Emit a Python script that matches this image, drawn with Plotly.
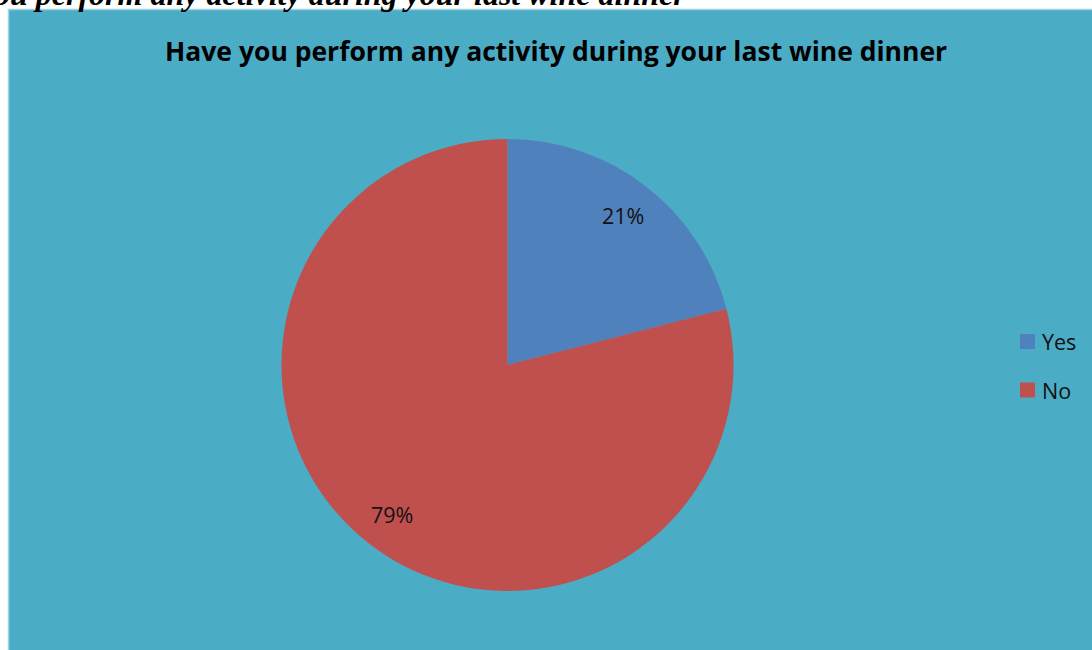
import math
import plotly.graph_objects as go

# Survey answers
labels = ["Yes", "No"]
values = [21, 79]
colors = ["#4F81BD", "#C0504D"]

chart_title = "Have you perform any activity during your last wine dinner"
caption = "ou perform any activity during your last wine dinner"

W, H = 1092, 650
teal = "#4BACC6"

# Pie geometry in pixels
cx_px, cy_px, r_px = 507.5, 365.0, 226.0

fig = go.Figure()
fig.add_trace(go.Pie(
    labels=labels,
    values=values,
    marker=dict(colors=colors, line=dict(width=0)),
    sort=False,
    direction="clockwise",
    rotation=0,
    textinfo="none",
    hoverinfo="label+percent",
    showlegend=False,
    domain=dict(x=[(cx_px - r_px) / W, (cx_px + r_px) / W],
                y=[(H - cy_px - r_px) / H, (H - cy_px + r_px) / H]),
))

annotations = []
text_font = dict(family="Open Sans", size=21.5, color="#111111")

# Percentage labels placed at the middle angle of each slice
total = sum(values)
start = 0.0
label_r = 0.835
for v in values:
    frac = v / total
    mid = (start + frac / 2) * 2 * math.pi
    start += frac
    px = cx_px + label_r * r_px * math.sin(mid)
    py = cy_px - label_r * r_px * math.cos(mid)
    annotations.append(dict(
        x=px / W, y=1 - py / H, xref="paper", yref="paper",
        text=f"{round(100 * frac)}%", showarrow=False,
        xanchor="center", yanchor="middle", font=text_font,
    ))

# Legend keys and labels
for i, lab in enumerate(labels):
    ly = 341.5 + i * 48.5
    annotations.append(dict(
        x=1040 / W, y=1 - ly / H, xref="paper", yref="paper",
        text=lab, showarrow=False, xanchor="left", yanchor="middle",
        font=text_font,
    ))

shapes = [
    # chart area
    dict(type="rect", xref="paper", yref="paper",
         x0=8.5 / W, x1=1.01, y0=-0.01, y1=1 - 9.5 / H,
         fillcolor=teal, line=dict(color="#9ED3E0", width=1.5), layer="below"),
]
for i, col in enumerate(colors):
    ly = 341.5 + i * 48.5
    shapes.append(dict(type="rect", xref="paper", yref="paper",
                       x0=1020 / W, x1=1035 / W,
                       y0=1 - (ly + 7.5) / H, y1=1 - (ly - 7.5) / H,
                       fillcolor=col, line=dict(width=0)))

# Chart title
annotations.append(dict(
    x=556 / W, y=1 - 51 / H, xref="paper", yref="paper",
    text=f"<b>{chart_title}</b>", showarrow=False,
    xanchor="center", yanchor="middle",
    font=dict(family="Open Sans", size=26.5, color="#000000"),
))

# Caption line above the chart
annotations.append(dict(
    x=688 / W, y=1 - 14 / H, xref="paper", yref="paper",
    text=f"<b><i>{caption}</i></b>", showarrow=False,
    xanchor="right", yanchor="bottom",
    font=dict(family="Liberation Serif", size=32, color="#000000"),
))

fig.update_layout(
    width=W, height=H,
    margin=dict(l=0, r=0, t=0, b=0),
    paper_bgcolor="#FFFFFF",
    plot_bgcolor="rgba(0,0,0,0)",
    shapes=shapes,
    annotations=annotations,
)

fig.write_html("out.html", config={"displayModeBar": False})
